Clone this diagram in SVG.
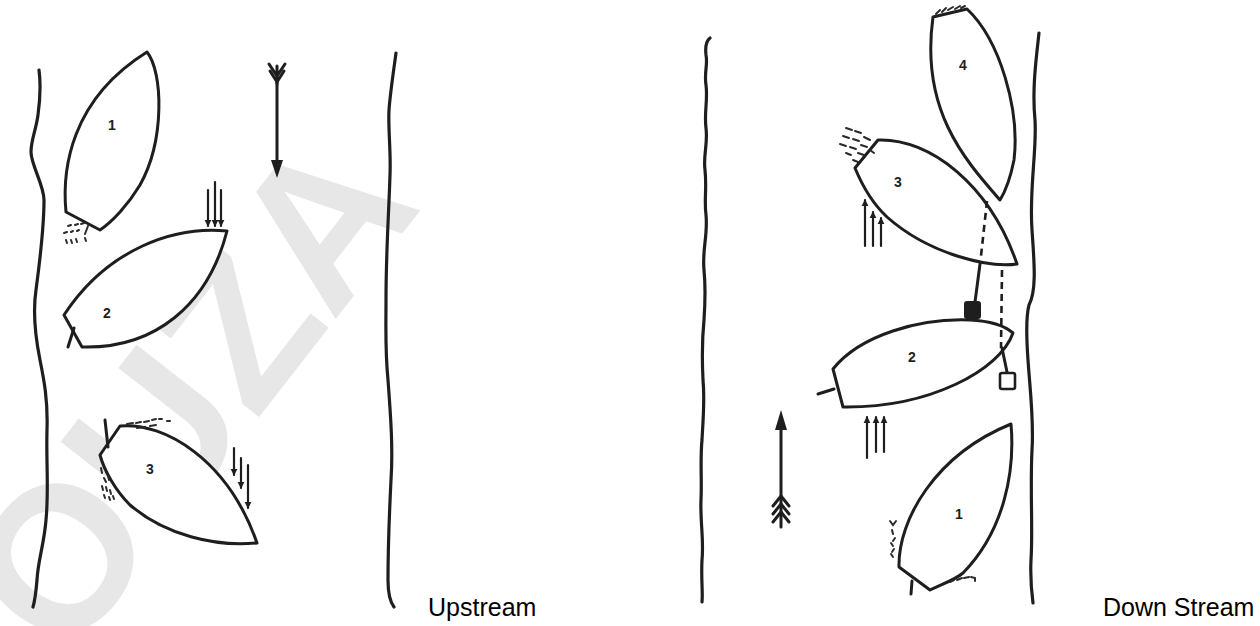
<svg xmlns="http://www.w3.org/2000/svg" width="1260" height="626" viewBox="0 0 1260 626">
  <defs>
    <style>
      .ink { fill: none; stroke: #1e1e1e; stroke-width: 3; stroke-linecap: round; stroke-linejoin: round; }
      .bank { fill: none; stroke: #1e1e1e; stroke-width: 3.2; stroke-linecap: round; stroke-linejoin: round; }
      .hull { fill: #ffffff; stroke: #1e1e1e; stroke-width: 3; stroke-linejoin: round; }
      .thin { fill: none; stroke: #1e1e1e; stroke-width: 2.2; stroke-linecap: round; }
      .splash { fill: none; stroke: #2a2a2a; stroke-width: 2; stroke-linecap: round; }
      .dash { fill: none; stroke: #1e1e1e; stroke-width: 2.6; stroke-dasharray: 7 5; }
      .num { font-family: "Liberation Sans", Arial, sans-serif; font-weight: bold; font-size: 14px; fill: #1e1e1e; text-anchor: middle; }
      .caption { font-family: "Liberation Sans", Arial, sans-serif; font-size: 25px; fill: #000000; }
      .mark { font-family: "Liberation Sans", Arial, sans-serif; font-weight: bold; font-size: 205px; fill: #e7e7e7; }
    </style>
    <marker id="head" viewBox="0 0 10 10" refX="9" refY="5" markerWidth="3.2" markerHeight="3.2" orient="auto">
      <path d="M0,0 L10,5 L0,10 Z" fill="#1e1e1e"/>
    </marker>
  </defs>

  <rect width="1260" height="626" fill="#ffffff"/>

  <!-- faint watermark lettering -->
  <text class="mark" x="66" y="664" transform="rotate(-52 66 664)">OUZA</text>

  <!-- ===== Upstream scene ===== -->
  <g id="upstream-banks">
    <path class="bank" d="M39,70 C41,85 40,100 38,115 C36,130 31,140 31,152 C31,165 44,185 44,200 C44,230 40,260 36,290 C33,310 34,330 40,360 C44,380 48,400 47,430 C46,460 49,490 46,520 C44,545 38,560 37,580 C36,592 35,600 33,607"/>
    <path class="bank" d="M396,53 C393,75 390,95 389,110 C388,130 391,150 390,175 C389,210 386,250 386,300 C386,330 385,350 388,380 C391,420 393,450 391,480 C389,520 388,550 388,580 C388,595 391,603 394,607"/>
  </g>

  <g id="up-current">
    <path class="ink" d="M277,80 L277,162"/>
    <path d="M271,160 L283,160 L277,178 Z" fill="#1e1e1e"/>
    <path class="ink" stroke-width="3.6" d="M269,64 L277,76 L285,64 M270,71 L277,82 L284,71 M277,66 L277,84"/>
  </g>

  <g id="up-boat-1">
    <path class="hull" d="M147,52 C163,72 165,140 140,185 C128,205 112,222 100,230 L66,212 C62,170 70,100 147,52 Z"/>
    <text class="num" x="112" y="130">1</text>
    <path class="splash" d="M68,226 l3,-1 M75,225 l3,-1 M81,224 l3,-1 M64,233 l3,-1 M71,232 l2,-1 M77,231 l2,-1 M66,240 l1,3 M71,240 l1,3 M76,239 l1,3 M85,238 l1,3 M88,226 l-3,8"/>
  </g>

  <g id="up-boat-2">
    <path class="hull" d="M227,231 C175,226 108,248 64,315 L82,347 C155,349 208,305 227,231 Z"/>
    <path class="ink" d="M74,328 L68,347"/>
    <text class="num" x="107" y="318">2</text>
  </g>

  <g id="up-boat-3">
    <path class="hull" d="M100,455 L120,426 C165,422 228,460 257,543 C215,547 165,535 130,505 C115,490 104,470 100,455 Z"/>
    <path class="ink" d="M105,420 L108,447"/>
    <text class="num" x="150" y="474">3</text>
    <path class="splash" d="M127,424 l6,-1 M136,423 l5,-1 M144,422 l5,-1 M152,420 l4,-1 M159,419 l3,0 M167,421 l3,0 M137,428 l8,-1 M150,426 l6,-1"/>
    <path class="splash" d="M101,468 l1,5 M104,478 l2,4 M108,476 l1,4 M102,486 l1,4 M106,487 l1,4 M110,490 l1,4 M104,495 l1,3 M109,497 l1,3 M113,496 l1,3"/>
  </g>

  <g id="up-push-arrows">
    <path class="thin" d="M208,190 L208,226" marker-end="url(#head)"/>
    <path class="thin" d="M215,182 L215,226" marker-end="url(#head)"/>
    <path class="thin" d="M221,190 L221,226" marker-end="url(#head)"/>
    <path class="thin" d="M234,448 L234,475" marker-end="url(#head)"/>
    <path class="thin" d="M241,458 L241,488" marker-end="url(#head)"/>
    <path class="thin" d="M248,465 L248,508" marker-end="url(#head)"/>
  </g>

  <!-- ===== Downstream scene ===== -->
  <g id="down-banks">
    <path class="bank" d="M710,38 C706,41 705,46 706,55 C708,65 704,72 706,85 C708,100 704,112 706,128 C708,145 703,155 705,170 C707,188 704,200 706,215 C708,235 702,250 704,270 C706,290 705,305 704,320 C702,340 702,360 703,380 C705,400 703,420 702,440 C700,460 702,480 701,500 C700,520 704,540 702,560 C701,580 703,592 702,602"/>
    <path class="bank" d="M1039,33 C1036,60 1032,90 1035,120 C1037,150 1029,190 1032,230 C1034,260 1037,290 1029,305 C1025,320 1027,345 1028,360 C1030,390 1034,420 1032,450 C1030,490 1033,530 1031,560 C1030,580 1032,595 1033,603"/>
  </g>

  <g id="down-current">
    <path class="ink" d="M781,428 L781,527"/>
    <path d="M775,430 L787,430 L781,410 Z" fill="#1e1e1e"/>
    <path class="ink" stroke-width="3.2" d="M773,506 L781,496 L789,506 M773,514 L781,504 L789,514 M773,522 L781,512 L789,522"/>
  </g>

  <g id="down-boat-4">
    <path class="hull" d="M933,17 L967,9 C1000,40 1020,110 1014,160 C1010,180 1005,192 1000,200 C965,160 920,110 933,17 Z"/>
    <text class="num" x="963" y="70">4</text>
    <path class="splash" d="M936,14 l4,-4 M942,12 l4,-4 M948,10 l5,-3 M955,9 l5,-3 M961,8 l4,-2"/>
  </g>

  <g id="down-boat-3">
    <path class="hull" d="M855,168 L878,140 C930,138 990,185 1017,264 C990,268 930,255 887,217 C872,203 862,185 855,168 Z"/>
    <text class="num" x="898" y="187">3</text>
    <path class="splash" d="M846,128 l6,2 M843,136 l6,2 M840,144 l6,2 M855,131 l6,2 M853,139 l6,2 M850,147 l6,2 M864,137 l6,3 M861,145 l6,2 M858,153 l6,2 M846,153 l5,2 M870,150 l4,3 M853,160 l5,2"/>
  </g>

  <g id="down-boat-2">
    <path class="hull" d="M833,369 C860,335 920,318 970,320 C990,321 1005,326 1013,333 C1000,370 930,408 843,407 Z"/>
    <path class="ink" d="M818,394 L834,389"/>
    <text class="num" x="912" y="362">2</text>
  </g>

  <g id="down-boat-1">
    <path class="hull" d="M1011,424 C1015,470 1005,530 963,573 C955,580 940,585 930,590 L899,567 C898,520 935,455 1011,424 Z"/>
    <path class="ink" d="M912,581 L911,594"/>
    <text class="num" x="959" y="519">1</text>
    <path class="splash" d="M890,521 l3,4 l3,-4 M892,530 l1,4 M895,538 l-2,3 M891,543 l2,3 M894,549 l-2,3 M891,554 l2,3 M950,582 l4,-2 M957,580 l5,-2 M964,578 l5,-1 M971,577 l4,1 l0,3"/>
  </g>

  <!-- rescue throw lines, bags and paddle-push arrows -->
  <g id="connectors">
    <path class="dash" d="M987,201 L981,256"/>
    <path class="dash" d="M1002,270 L1001,348"/>
    <path class="ink" d="M1002,348 L1007,372"/>
    <rect x="1000" y="373" width="15" height="16" rx="2" fill="#ffffff" stroke="#1e1e1e" stroke-width="2.6"/>
    <path class="ink" d="M980,264 L975,302"/>
    <rect x="964" y="301" width="17" height="18" rx="3" fill="#1e1e1e"/>
    <path class="thin" d="M867,458 L867,417" marker-end="url(#head)"/>
    <path class="thin" d="M876,452 L876,417" marker-end="url(#head)"/>
    <path class="thin" d="M884,452 L884,417" marker-end="url(#head)"/>
    <path class="thin" d="M865,246 L865,200" marker-end="url(#head)"/>
    <path class="thin" d="M873,246 L873,212" marker-end="url(#head)"/>
    <path class="thin" d="M881,246 L881,218" marker-end="url(#head)"/>
  </g>

  <text class="caption" x="428" y="616">Upstream</text>
  <text class="caption" x="1103" y="616">Down Stream</text>
</svg>
